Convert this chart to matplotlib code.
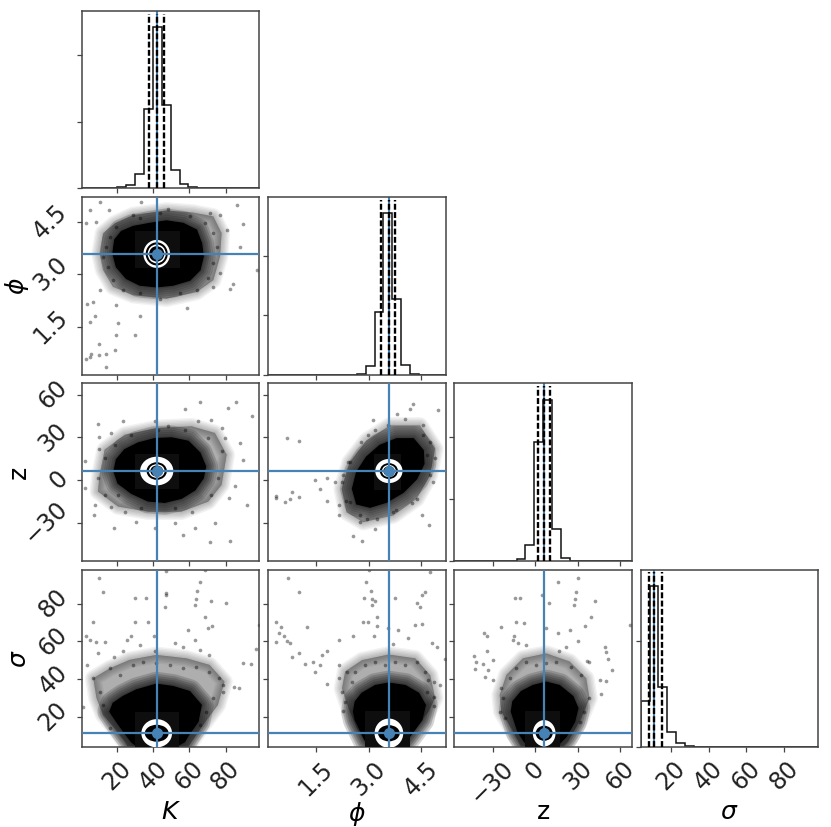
import numpy as np
import matplotlib
matplotlib.use("Agg")
import matplotlib.pyplot as plt
from matplotlib.patches import Polygon, Ellipse, Rectangle

# --- parameters: labels, ranges, ticks, true values ---
labels = [r"$K$", r"$\phi$", "z", r"$\sigma$"]
ranges = [(0.55, 98.7), (0.13, 5.2), (-56.9, 68.0), (3.9, 98.1)]
ticks = [[20, 40, 60, 80], [1.5, 3.0, 4.5], [-30, 0, 30, 60], [20, 40, 60, 80]]
truths = [41.9, 3.58, 6.3, 11.2]

# --- 1D histograms: counts for the 20 bins of each parameter ---
hist_K = [0, 0, 0, 0, 400, 1000, 4400, 23600, 48250, 24900, 5400, 1200, 400, 0, 0, 0, 0, 0, 0, 0]
hist_phi = [0, 0, 0, 0, 0, 0, 0, 0, 0, 0, 336, 2800, 21200, 54300, 25300, 3260, 336, 0, 0, 0]
hist_z = [0, 0, 0, 0, 0, 0, 0, 540, 5090, 38340, 52200, 10260, 870, 0, 0, 0, 0, 0, 0, 0]
hist_sigma = [21600, 75800, 28300, 7200, 1700, 470, 0, 0, 0, 0, 0, 0, 0, 0, 0, 0, 0, 0, 0, 0]
hist_counts = [hist_K, hist_phi, hist_z, hist_sigma]
hist_ticks = [[0, 20000, 40000], [0, 20000, 40000], [0, 20000, 40000], [0, 50000]]
quantiles = [[37.8, 41.9, 46.1], [3.36, 3.57, 3.76], [2.1, 6.1, 10.5], [8.6, 11.1, 15.2]]

# --- 2D panels: outline of the saturated cloud ---
outline_K_phi = [(17.7, 3.59), (18.7, 3.98), (22.4, 4.22), (28.8, 4.36), (38.1, 4.45), (47.3, 4.52), (56.5, 4.45),
                 (63.9, 4.26), (66.7, 3.88), (67.6, 3.50), (65.8, 3.12), (60.2, 2.83), (51.0, 2.69), (41.8, 2.64),
                 (32.5, 2.69), (25.1, 2.88), (19.6, 3.21)]
outline_K_z = [(18.3, 6.0), (19.6, 14.3), (24.2, 21.3), (31.6, 26.0), (40.8, 29.1), (50.1, 29.6), (59.3, 27.2),
               (65.8, 19.0), (68.9, 9.5), (67.6, 1.3), (63.0, -7.0), (55.6, -12.8), (46.4, -15.7), (37.1, -14.7),
               (27.9, -9.3), (20.5, -2.2)]
outline_phi_z = [(2.54, -6.2), (2.66, 5.5), (2.94, 16.1), (3.32, 24.3), (3.80, 29.0), (4.28, 29.0), (4.56, 20.8),
                 (4.58, 11.4), (4.37, 0.8), (3.99, -8.6), (3.51, -15.6), (3.04, -19.1), (2.66, -16.8)]
outline_K_sigma = [(16.0, 22.7), (17.8, 27.1), (23.3, 30.7), (30.7, 34.2), (41.7, 37.2), (50.9, 36.0), (60.1, 33.3),
                   (66.5, 26.2), (64.7, 17.4), (59.2, 9.9), (57.3, 6.7), (51.8, 3.9), (31.6, 3.9), (27.9, 6.7),
                   (24.3, 11.2), (19.7, 17.4)]
outline_phi_sigma = [(2.57, 22.7), (2.62, 28.0), (2.81, 32.4), (3.19, 36.5), (3.57, 37.8), (4.05, 36.5), (4.43, 32.4),
                     (4.62, 26.2), (4.52, 18.3), (4.24, 11.2), (4.05, 6.7), (3.71, 3.9), (3.14, 3.9), (2.90, 7.6),
                     (2.76, 12.9), (2.62, 18.3)]
outline_z_sigma = [(-16.8, 22.7), (-15.7, 28.0), (-9.8, 33.3), (-1.6, 36.5), (7.8, 38.3), (17.1, 36.5), (26.5, 30.7),
                   (30.0, 24.5), (27.7, 17.4), (21.8, 9.5), (16.0, 5.0), (10.1, 3.9), (-1.6, 3.9), (-7.5, 6.7),
                   (-12.1, 12.0)]

# --- 2D panels: outline of the grey speckled halo around the cloud ---
halo_K_phi = [(10.3, 3.59), (12.2, 4.17), (18.7, 4.45), (28.8, 4.69), (47.3, 4.82), (62.1, 4.76), (73.2, 4.65),
              (77.8, 4.17), (76.9, 3.5), (73.2, 2.83), (64.0, 2.49), (47.3, 2.3), (28.8, 2.4), (17.7, 2.64), (12.2, 3.12)]
halo_K_z = [(10.3, 3.7), (13.1, 21.3), (24.2, 31.9), (42.7, 36.7), (61.2, 37.8), (74.1, 33.1), (80.6, 17.8),
            (77.8, -3.4), (70.4, -15.2), (55.6, -22.3), (37.1, -22.3), (20.5, -18.7), (9.4, -8.1)]
halo_phi_z = [(2.23, -6.2), (2.46, 12.6), (2.94, 27.8), (3.61, 38.4), (4.47, 38.4), (4.9, 22.0), (4.75, 3.2),
              (4.37, -13.3), (3.7, -25.0), (2.85, -29.7), (2.37, -22.7)]
halo_K_sigma = [(6.8, 40.4), (16.0, 45.7), (27.0, 50.2), (41.7, 52.8), (58.3, 51.0), (71.1, 47.5), (79.4, 38.6),
                (75.7, 26.2), (67.5, 15.6), (59.2, 3.9), (26.0, 3.9), (24.3, 6.7), (18.7, 13.8), (12.3, 20.9), (8.6, 29.8)]
halo_phi_sigma = [(2.24, 35.0), (2.33, 44.0), (2.81, 50.0), (3.57, 53.0), (4.33, 51.0), (4.76, 42.0), (4.9, 30.0),
                  (4.71, 22.7), (4.33, 14.0), (3.99, 3.9), (3.0, 3.9), (2.66, 14.0), (2.43, 24.5)]
halo_z_sigma = [(-23.9, 22.7), (-25.0, 31.5), (-20.3, 42.2), (-8.6, 51.0), (7.8, 53.6), (24.2, 49.3), (35.9, 40.4),
                (38.2, 29.8), (32.4, 19.2), (23.0, 6.7), (19.5, 3.9), (-9.8, 3.9), (-16.8, 13.8)]

# --- 2D panels: scattered samples outside the cloud ---
points_K_phi = [(15.5, 4.84), (33.4, 5.05), (48.2, 4.87), (28.8, 4.69), (10.3, 5.05), (4.8, 4.84), (3.0, 4.45),
                (8.5, 4.5), (71.3, 4.74), (76.9, 4.69), (86.1, 4.98), (89.8, 4.44), (88.0, 3.79), (80.6, 4.26),
                (84.3, 2.73), (82.4, 2.57), (73.2, 2.64), (76.9, 3.02), (32.5, 1.8), (7.9, 1.8), (3.3, 2.16),
                (6.6, 2.2), (10.3, 2.54), (20.5, 1.59), (9.8, 0.68), (5.7, 0.73), (13.7, 0.36), (4.8, 0.63),
                (2.6, 0.58), (18.7, 0.82), (14.0, 0.73), (9.8, 1.01), (29.7, 1.25), (19.6, 1.25), (4.8, 1.63),
                (19.6, 2.11), (58.4, 2.02), (97.2, 3.12), (14.0, 3.79), (12.2, 3.5), (15.0, 3.21), (17.7, 2.83),
                (23.3, 2.54), (32.5, 2.45), (43.6, 2.3), (54.7, 2.45), (64.0, 2.54), (70.4, 2.88), (73.2, 3.31),
                (75.0, 3.79), (73.2, 4.17), (68.6, 4.45), (60.2, 4.65), (43.6, 4.74), (32.5, 4.6), (19.6, 4.36),
                (15.9, 4.07)]
points_K_z = [(57.5, 50.1), (65.8, 55.0), (81.5, 50.8), (85.6, 55.0), (94.4, 44.9), (9.4, 39.5), (9.9, 30.0),
              (9.9, 22.0), (88.0, 26.0), (89.8, 14.3), (85.2, -3.9), (81.9, -12.8), (91.7, -17.6), (82.4, -42.8),
              (71.3, -43.5), (63.0, -34.0), (56.5, -38.8), (51.9, -30.5), (40.8, -34.0), (30.7, -29.3), (18.3, -34.0),
              (7.2, -24.6), (2.0, 13.1), (2.0, -5.8), (13.1, -10.5), (7.6, -17.6), (16.8, -18.7), (24.2, -22.3),
              (74.0, -30.5), (40.8, 41.4), (23.3, 41.4), (16.8, 33.1), (48.2, 37.8), (77.8, 36.7), (72.2, 42.5),
              (64.9, 41.4), (79.6, 29.6), (77.8, 20.2), (76.0, 1.3), (72.2, -10.5), (61.2, -22.3), (51.9, -19.9),
              (33.4, -19.9), (20.5, -10.5), (9.4, 1.3), (13.1, 15.4), (18.7, 24.9), (27.9, 31.9), (42.7, 35.5),
              (57.5, 35.5), (70.4, 29.6)]
points_phi_z = [(0.68, 29.7), (1.02, 27.8), (0.35, -12.8), (0.35, -11.4), (0.61, -15.2), (0.75, -13.7), (1.02, -12.1),
                (0.8, -8.6), (1.46, 0.3), (1.8, 1.5), (1.61, -6.2), (1.8, -14.5), (2.16, -17.5), (2.16, -25.0),
                (2.35, -14.5), (2.04, -1.5), (2.23, -1.5), (2.46, 13.0), (2.8, -43.1), (3.18, -34.4), (2.75, -29.7),
                (2.56, -39.1), (2.94, -27.4), (3.23, -27.4), (4.53, -24.6), (4.73, -32.0), (4.23, -16.3), (3.78, -20.8),
                (4.85, -1.5), (4.9, 15.4), (4.56, 31.4), (4.99, 49.0), (4.28, 53.7), (4.18, 50.1), (4.04, 43.1),
                (3.8, 46.6), (3.18, 34.9), (3.13, 42.0), (2.78, 26.7), (2.99, 31.4), (3.56, 38.4), (4.56, 38.4),
                (4.75, 26.7), (2.42, 12.6), (2.27, 3.2), (2.46, -15.6), (2.75, -25.0), (3.7, -22.7), (4.37, -13.3),
                (4.75, 3.2), (4.66, 17.3)]
points_K_sigma = [(9.9, 93.9), (12.3, 86.0), (29.8, 83.0), (36.2, 83.0), (46.9, 97.5), (46.9, 85.6), (46.9, 84.4),
                  (65.6, 91.8), (63.8, 82.4), (63.2, 79.4), (64.1, 86.5), (72.0, 81.2), (80.3, 80.3), (68.4, 98.0),
                  (46.7, 78.5), (68.7, 73.2), (70.2, 67.0), (72.6, 68.2), (98.3, 68.8), (6.4, 70.5), (2.8, 62.6),
                  (5.0, 60.8), (8.3, 59.9), (13.2, 59.5), (29.8, 70.5), (37.1, 70.2), (25.2, 60.8), (27.9, 62.6),
                  (32.5, 58.1), (40.4, 62.6), (40.8, 54.9), (23.3, 54.9), (18.2, 51.9), (9.6, 53.7), (3.5, 47.5),
                  (1.3, 25.3), (89.5, 48.4), (94.1, 47.9), (96.9, 55.8), (84.9, 36.0), (87.7, 35.1), (78.5, 33.3),
                  (56.4, 57.2), (65.6, 55.5), (71.1, 52.8), (62.9, 60.8), (59.2, 66.1), (51.8, 59.0), (16.0, 14.2),
                  (6.8, 40.4), (10.5, 33.3), (12.3, 26.2), (16.0, 45.7), (21.5, 42.2), (28.9, 47.5), (34.4, 49.3),
                  (41.7, 48.4), (49.0, 47.5), (56.4, 45.7), (63.8, 46.6), (70.9, 44.0), (76.6, 40.4), (73.0, 29.8),
                  (69.3, 22.7), (78.5, 36.9), (65.6, 15.6)]
points_phi_sigma = [(0.69, 93.9), (1.02, 86.0), (2.92, 91.8), (3.02, 98.0), (3.07, 86.5), (2.87, 82.9), (3.09, 82.4),
                    (3.19, 81.2), (3.09, 79.4), (3.76, 82.9), (4.38, 80.3), (4.54, 84.7), (4.62, 86.0), (4.76, 97.1),
                    (4.48, 78.5), (4.54, 69.1), (0.36, 70.5), (0.36, 59.5), (0.59, 62.6), (0.66, 60.3), (0.76, 59.0),
                    (0.81, 51.9), (1.02, 53.7), (1.24, 67.5), (0.43, 64.7), (0.5, 67.9), (1.19, 47.9), (1.41, 49.0),
                    (1.6, 47.5), (1.47, 43.6), (1.66, 53.0), (1.81, 55.0), (1.81, 37.4), (2.16, 60.8), (2.16, 47.5),
                    (2.16, 40.4), (2.54, 62.6), (2.84, 70.5), (2.97, 70.2), (3.24, 73.2), (3.24, 68.4), (3.55, 67.0),
                    (3.83, 65.9), (3.16, 62.9), (3.69, 58.5), (4.14, 61.7), (4.33, 68.8), (4.81, 59.0), (5.19, 50.5),
                    (4.95, 57.2), (2.28, 23.0), (5.05, 36.9), (4.86, 30.7), (4.88, 25.9), (4.86, 38.6), (2.24, 33.3),
                    (2.33, 28.0), (2.38, 44.0), (2.62, 44.0), (2.9, 47.5), (3.19, 49.3), (3.48, 47.5), (3.76, 49.3),
                    (4.05, 47.5), (4.38, 49.3), (4.62, 44.0), (4.71, 39.5), (4.67, 33.3), (2.52, 38.6)]
points_z_sigma = [(30.0, 93.9), (16.0, 91.8), (28.4, 86.1), (27.7, 82.4), (27.2, 79.4), (42.2, 81.2), (9.6, 80.3),
                  (4.9, 84.7), (-14.5, 83.0), (-11.0, 83.0), (67.0, 68.8), (39.0, 73.2), (35.4, 68.2), (7.8, 67.3),
                  (-13.3, 70.2), (-8.0, 70.0), (-24.3, 67.7), (-36.3, 64.3), (-33.7, 62.6), (-15.2, 62.6),
                  (-15.7, 60.8), (-12.2, 59.0), (-33.9, 54.9), (-43.1, 52.5), (-41.4, 49.3), (-36.8, 47.9),
                  (-42.6, 45.4), (-29.7, 50.0), (-33.2, 44.8), (-35.6, 41.3), (-29.7, 39.5), (48.8, 57.2), (51.1, 50.6),
                  (50.0, 54.4), (54.2, 44.8), (49.5, 38.9), (45.3, 39.5), (38.2, 49.3), (36.4, 49.7), (16.7, 54.9),
                  (30.0, 60.2), (24.2, 66.1), (16.0, 64.3), (46.4, 32.2), (-6.3, 58.1), (21.8, 57.2), (-25.0, 22.7),
                  (-22.7, 29.8), (-23.9, 35.1), (-18.0, 40.4), (-13.3, 45.7), (-6.3, 49.3), (0.7, 47.5), (7.8, 48.4),
                  (14.8, 49.3), (25.3, 46.6), (32.4, 42.2), (38.2, 29.8), (34.7, 22.7), (31.2, 17.4), (-21.5, 19.2)]

# --- 2D panels: density box (x0, x1, y0, y1) and contour half-widths, outermost first ---
box_K_phi = (29.7, 54.6, 3.17, 4.22)
box_K_z = (29.7, 54.1, -6.2, 18.3)
box_phi_z = (3.16, 3.92, -7.4, 18.0)
box_K_sigma = (29.8, 54.0, 3.9, 22.7)
box_phi_sigma = (2.90, 4.17, 3.9, 23.0)
box_z_sigma = (-7.5, 17.6, 3.9, 23.0)

rings_K_phi = [(7.4, 0.40), (6.1, 0.33), (5.0, 0.27), (4.2, 0.22)]
rings_K_z = [(9.2, 10.1), (5.6, 6.2), (4.4, 4.8), (3.5, 3.9)]
rings_phi_z = [(0.39, 8.5), (0.26, 5.6), (0.2, 4.3), (0.16, 3.4)]
rings_K_sigma = [(8.5, 7.5), (6.6, 4.5)]
rings_phi_sigma = [(0.41, 7.8), (0.31, 4.3)]
rings_z_sigma = [(8.0, 7.0), (6.0, 4.0)]

panels = {
    (1, 0): (outline_K_phi, halo_K_phi, points_K_phi, box_K_phi, rings_K_phi),
    (2, 0): (outline_K_z, halo_K_z, points_K_z, box_K_z, rings_K_z),
    (2, 1): (outline_phi_z, halo_phi_z, points_phi_z, box_phi_z, rings_phi_z),
    (3, 0): (outline_K_sigma, halo_K_sigma, points_K_sigma, box_K_sigma, rings_K_sigma),
    (3, 1): (outline_phi_sigma, halo_phi_sigma, points_phi_sigma, box_phi_sigma, rings_phi_sigma),
    (3, 2): (outline_z_sigma, halo_z_sigma, points_z_sigma, box_z_sigma, rings_z_sigma),
}

BLUE = "#4682b4"
SPINE = "#444444"

fig, axes = plt.subplots(4, 4, figsize=(8.31, 8.27), dpi=100)
fig.subplots_adjust(left=82 / 831, right=818 / 831, top=1 - 11 / 827, bottom=1 - 747 / 827, wspace=0.05, hspace=0.05)

for i in range(4):
    for j in range(4):
        ax = axes[i, j]
        if j > i:
            ax.axis("off")
            continue

        if i == j:
            # histogram on the diagonal
            edges = np.linspace(ranges[i][0], ranges[i][1], 21)
            ax.axvline(truths[i], color=BLUE, lw=1.5, zorder=1)
            ax.stairs(hist_counts[i], edges, color="#111111", lw=1.1, baseline=0, zorder=2)
            for q in quantiles[i]:
                ax.axvline(q, color="k", lw=1.7, linestyle=(0, (2.5, 1.0)), ymax=0.985, zorder=3)
            ax.set_xlim(ranges[i])
            ax.set_ylim(0, 1.1 * max(hist_counts[i]))
            ax.set_yticks(hist_ticks[i])
            ax.set_yticklabels([])
        else:
            outline, halo, pts, box, rings = panels[(i, j)]
            px = [p[0] for p in pts]
            py = [p[1] for p in pts]
            ax.scatter(px, py, s=7, color="k", alpha=0.4, linewidths=0, zorder=1)
            # grey speckled halo, softened towards its outer edge
            for lw in [12, 10, 8, 6, 4, 2, 0.5]:
                ax.add_patch(Polygon(halo, closed=True, fc="k", ec="k", lw=lw, alpha=0.05, joinstyle="round", zorder=2))
            # soft edge of the cloud itself
            for lw in [18, 15, 12, 9, 6, 3]:
                ax.add_patch(Polygon(outline, closed=True, fill=False, ec="k", lw=lw, alpha=0.17, joinstyle="round", zorder=2))
            ax.add_patch(Polygon(outline, closed=True, fc="k", ec="k", lw=1, zorder=3))
            ax.add_patch(Rectangle((box[0], box[2]), box[1] - box[0], box[3] - box[2], fc="#0e0e0e", ec="none", zorder=4))
            # contours: alternate white and black from the outside in
            for n, (rx, ry) in enumerate(rings):
                c = "white" if n % 2 == 0 else "black"
                ax.add_patch(Ellipse((truths[j], truths[i]), 2 * rx, 2 * ry, fc=c, ec="none", zorder=5 + n))
            ax.axvline(truths[j], color=BLUE, lw=1.6, zorder=12)
            ax.axhline(truths[i], color=BLUE, lw=1.6, zorder=12)
            ax.plot([truths[j]], [truths[i]], "o", color=BLUE, ms=7, zorder=13)
            ax.set_xlim(ranges[j])
            ax.set_ylim(ranges[i])
            ax.set_yticks(ticks[i])
            if j == 0:
                yl = [str(t).replace("-", "\u2212") for t in ticks[i]]
                ax.set_yticklabels(yl, rotation=45, fontsize=17, va="center")
                ax.set_ylabel(labels[i], fontsize=18)
                ax.yaxis.set_label_coords(-0.29, 0.5)
            else:
                ax.set_yticklabels([])

        ax.set_xticks(ticks[j])
        if i == 3:
            tl = [str(t).replace("-", "\u2212") for t in ticks[j]]
            ax.set_xticklabels(tl, rotation=45, fontsize=17)
            ax.set_xlabel(labels[j], fontsize=18)
            ax.xaxis.set_label_coords(0.5, -0.30)
        else:
            ax.set_xticklabels([])

        for s in ax.spines.values():
            s.set_color(SPINE)
            s.set_linewidth(1.1)
        ax.tick_params(color=SPINE, labelcolor="#222222", width=0.9, length=3.5)

fig.savefig("out.png", dpi=100)
